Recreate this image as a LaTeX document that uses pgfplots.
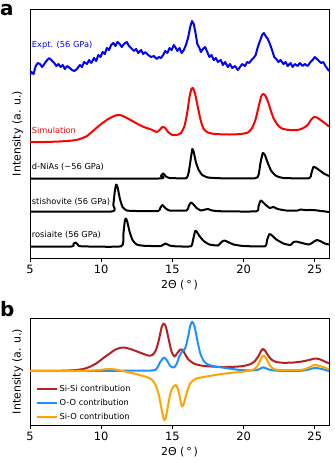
\documentclass[border=0pt]{standalone}
\usepackage{pgfplots}
\pgfplotsset{compat=1.18}
\usepackage{fontspec}
\setmainfont{DejaVu Sans}

\definecolor{sisi}{HTML}{B22222}
\definecolor{oo}{HTML}{1E90FF}
\definecolor{sio}{HTML}{FFA500}

\pgfplotsset{
  panel/.style={
    scale only axis,
    width=299bp,
    xmin=5, xmax=26,
    xtick={5,10,15,20,25},
    xtick pos=bottom,
    tick align=outside,
    major tick length=3.5bp,
    ytick=\empty,
    y dir=reverse,
    axis line style={line width=0.8bp},
    every tick/.style={line width=0.8bp, black},
    tick label style={font=\fontsize{11.5}{13}\selectfont},
    label style={font=\fontsize{11}{13}\selectfont},
    /pgf/number format/assume math mode=true,
    xlabel={2Θ (\,°\,)},
    ylabel={Intensity (a. u.)},
    every axis plot/.append style={line width=2bp, line join=round},
  },
}

\begin{document}
\begin{tikzpicture}
\useasboundingbox (0,0) rectangle (335bp,-473bp);

\node[anchor=base west, inner sep=0pt, font=\fontsize{20}{20}\selectfont\bfseries] at (0bp,-15bp) {a};
\node[anchor=base west, inner sep=0pt, font=\fontsize{20}{20}\selectfont\bfseries] at (0bp,-316.5bp) {b};

% ---------- panel a ----------
\begin{axis}[panel, height=249bp, ymin=9, ymax=258,
  at={(30bp,-9bp)}, anchor=north west]

% Expt.
\addplot[blue] coordinates {
(5.0,75) (5.1,72) (5.25,74) (5.4,66) (5.55,63) (5.7,64) (5.85,67) (6.0,64)
(6.15,61) (6.35,58) (6.5,60) (6.7,63) (6.85,66) (7.0,64) (7.15,67) (7.3,65)
(7.45,69) (7.6,66) (7.8,68) (7.95,70) (8.1,71) (8.3,69) (8.5,65) (8.65,67)
(8.8,62) (9.0,64) (9.15,60) (9.3,63) (9.5,58) (9.65,61) (9.8,55) (9.95,57)
(10.1,52) (10.25,54) (10.4,48) (10.55,50) (10.7,45) (10.85,43) (11.0,46) (11.15,42)
(11.3,44) (11.45,47) (11.6,44) (11.8,42) (11.95,46) (12.1,48) (12.3,51) (12.45,49)
(12.6,53) (12.8,50) (12.95,54) (13.1,52) (13.3,55) (13.5,57) (13.7,56) (13.9,59)
(14.05,57) (14.2,58) (14.35,55) (14.5,51) (14.65,53) (14.8,48) (14.95,50) (15.1,45)
(15.2,47) (15.35,51) (15.5,48) (15.65,53) (15.8,50) (15.95,45) (16.1,38) (16.25,27)
(16.38,21) (16.5,24) (16.6,31) (16.75,44) (16.9,48) (17.0,52) (17.15,49) (17.3,47)
(17.45,52) (17.6,57) (17.75,55) (17.9,60) (18.05,58) (18.2,62) (18.4,60) (18.55,65)
(18.7,62) (18.9,67) (19.05,64) (19.2,68) (19.4,66) (19.6,70) (19.75,67) (19.9,64)
(20.1,66) (20.25,62) (20.4,63) (20.55,60) (20.7,58) (20.85,55) (21.0,47) (21.15,41)
(21.3,35) (21.42,33) (21.55,36) (21.7,39) (21.85,44) (22.0,50) (22.15,57) (22.3,59)
(22.45,62) (22.6,60) (22.8,64) (22.95,62) (23.1,66) (23.3,63) (23.45,67) (23.6,64)
(23.8,66) (23.95,63) (24.15,66) (24.3,64) (24.5,66) (24.7,62) (24.85,60) (25.0,57)
(25.15,59) (25.3,61) (25.45,63) (25.6,62) (25.75,66) (25.9,69) (26.0,71)
};

% Simulation
\addplot[red, smooth, tension=0.4] coordinates {
(5,142) (6,142) (7,141.5) (8,140.5) (8.5,139) (9,136) (9.5,130) (10,124)
(10.5,119) (11,115.5) (11.3,115) (11.6,116.5) (12,119.5) (12.5,123.5) (13,127)
(13.5,129.5) (13.9,132) (14.1,130) (14.3,127) (14.5,128) (14.7,132) (15.0,135)
(15.3,135) (15.6,133) (15.85,126) (16.05,112) (16.2,97) (16.35,88.5) (16.45,88)
(16.6,94) (16.8,108) (17.0,121) (17.2,129) (17.5,132.5) (18,134) (19,134.5)
(19.8,134) (20.3,132.5) (20.6,128) (20.85,119) (21.05,107) (21.25,96) (21.38,94)
(21.5,95) (21.7,101) (21.9,110) (22.1,118) (22.4,125) (22.7,128.5) (23.2,130)
(23.8,130) (24.2,128) (24.5,125) (24.75,119.5) (24.95,117) (25.15,117.5)
(25.4,120) (25.7,123) (26,126.5)
};

% d-NiAs
\addplot[black, smooth, tension=0.3] coordinates {
(5,178.5) (14.0,178.5) (14.2,176) (14.35,173.5) (14.55,176.5) (14.8,178) (15.5,178.3)
(16.0,178) (16.15,172) (16.28,160) (16.4,149) (16.5,152) (16.65,162) (16.85,170)
(17.1,175) (17.5,177.5) (18.5,178.3) (20.8,178.3) (21.05,175) (21.2,162) (21.35,153)
(21.5,155) (21.7,163) (21.95,171) (22.3,176) (22.8,178) (24.6,178.3) (24.75,174)
(24.9,167) (25.05,167.5) (25.4,171) (25.7,174) (26,176)
};

% stishovite
\addplot[black, smooth, tension=0.3] coordinates {
(5,211.5) (10.7,211.5) (10.85,205) (10.95,192) (11.05,184.5) (11.15,187) (11.3,198)
(11.5,207) (11.8,210.5) (12.5,211) (14.0,211) (14.15,208) (14.3,205) (14.5,208)
(14.8,210.5) (16.0,210.5) (16.15,206) (16.3,202.5) (16.45,204) (16.7,208) (17.0,210.5)
(17.3,209.5) (17.5,209) (17.8,210.5) (18.5,211.3) (20.9,211.3) (21.05,206) (21.2,200.5)
(21.35,202) (21.6,205.5) (21.85,208) (22.1,207) (22.4,209) (23,210.5) (23.8,210.5)
(24.0,209.5) (24.3,210) (24.8,210) (25.2,210.5) (26,212)
};

% rosiaite
\addplot[black, smooth, tension=0.3] coordinates {
(5,246.5) (7.9,246.5) (8.05,244) (8.2,242.5) (8.35,244.5) (8.6,246.3) (11.4,246.3)
(11.55,235) (11.65,222) (11.72,218.5) (11.82,221) (12.0,232) (12.2,240) (12.5,244.5)
(13,245.8) (14.2,246) (14.5,243.5) (14.8,245.5) (15.2,246.3) (16.3,246.3) (16.45,240)
(16.6,231) (16.7,231.5) (16.9,236) (17.2,241) (17.6,244.5) (18.2,245.5) (18.45,242)
(18.65,240.5) (18.9,242) (19.3,244.5) (20,246) (21.5,246.3) (21.65,240) (21.82,234)
(22.0,235.5) (22.3,239.5) (22.8,243.5) (23.3,245) (23.5,242) (23.7,241.5) (24.1,243)
(24.6,244.5) (24.9,242) (25.15,240) (25.45,241.5) (25.7,243.5) (26,244.5)
};

\begin{scope}[every node/.style={anchor=west, inner sep=0pt, font=\fontsize{8.3}{10}\selectfont}]
\node[text=blue] at (axis cs:5.12,45) {Expt. (56 GPa)};
\node[text=red] at (axis cs:5.12,130) {Simulation};
\node at (axis cs:5.12,167) {d-NiAs (∼56 GPa)};
\node at (axis cs:5.12,202) {stishovite (56 GPa)};
\node at (axis cs:5.12,235) {rosiaite (56 GPa)};
\end{scope}
\end{axis}

% ---------- panel b ----------
\begin{axis}[panel, height=107bp, ymin=318, ymax=425,
  at={(30bp,-318bp)}, anchor=north west,
  legend style={draw=none, fill=none, at={(0.015,0.405)}, anchor=north west,
    font=\fontsize{8.3}{10}\selectfont, row sep=2.3bp, inner sep=1bp},
  legend cell align=left,
  legend image code/.code={\draw[#1] (0bp,0bp) -- (20bp,0bp);}]

\addplot[sisi, smooth, tension=0.4] coordinates {
(5,371) (7,370.8) (8,370.3) (8.75,369) (9.25,366.5) (9.75,362.5) (10.2,357.5)
(10.6,353.5) (11.0,349.5) (11.45,347.5) (11.8,348) (12.25,350) (12.8,353) (13.3,355.5)
(13.6,355) (13.85,350) (14.05,340) (14.25,327) (14.4,323.5) (14.55,327) (14.75,340)
(14.95,352) (15.15,356.5) (15.35,353) (15.55,349.5) (15.7,349.5) (15.85,353) (16.1,359)
(16.5,363.5) (17,365.5) (17.5,366.3) (18.5,367) (19.3,366.8) (20,366) (20.5,364)
(20.8,361) (21.05,356) (21.25,350.5) (21.35,349) (21.5,350.5) (21.7,355) (21.95,359.5)
(22.3,362) (22.8,362.8) (23.5,362.5) (24.1,361.5) (24.6,360) (24.9,358.8) (25.1,358.5)
(25.4,359.5) (25.7,361.5) (26,363.3)
};
\addlegendentry{Si-Si contribution}

\addplot[oo, smooth, tension=0.4] coordinates {
(5,371) (10,370.8) (13.5,370.5) (13.9,368.5) (14.15,362) (14.4,357.5) (14.6,360)
(14.85,366) (15.1,367.5) (15.3,364) (15.5,356) (15.7,351) (15.85,349.5) (15.95,346)
(16.1,337) (16.25,326) (16.39,321.7) (16.55,326) (16.75,340) (16.95,353) (17.2,361)
(17.5,364.5) (18,366.5) (18.5,367.5) (19.2,369) (19.8,370) (20.6,370.5) (21.0,369.8)
(21.25,368) (21.4,367.3) (21.6,368.5) (21.9,370) (22.5,370.8) (24,370.8) (24.5,369.8)
(24.85,368.3) (25.1,368) (25.5,369) (26,371)
};
\addlegendentry{O-O contribution}

\addplot[sio, smooth, tension=0.4] coordinates {
(5,371) (8,371) (9,370.8) (9.8,370) (10.5,369) (11,369.5) (11.5,371) (12,372.5)
(12.7,375) (13.2,377) (13.6,380) (13.85,386) (14.05,395) (14.2,406) (14.35,417)
(14.45,420) (14.55,417) (14.7,405) (14.85,394) (15.0,388) (15.25,385) (15.45,392)
(15.6,403) (15.7,406.5) (15.82,403) (16.0,393) (16.25,383.5) (16.6,379) (17,377.5)
(18,375) (19,373) (19.7,372) (20.3,371) (20.7,369.5) (20.95,366.5) (21.15,361)
(21.3,356.5) (21.4,355.5) (21.55,357.5) (21.75,363) (22.0,368) (22.4,370) (23.5,370.2)
(24.2,369.5) (24.6,367.5) (24.85,365.5) (25.05,365) (25.35,366) (25.7,367.5) (26,369.3)
};
\addlegendentry{Si-O contribution}
\end{axis}
\end{tikzpicture}
\end{document}
